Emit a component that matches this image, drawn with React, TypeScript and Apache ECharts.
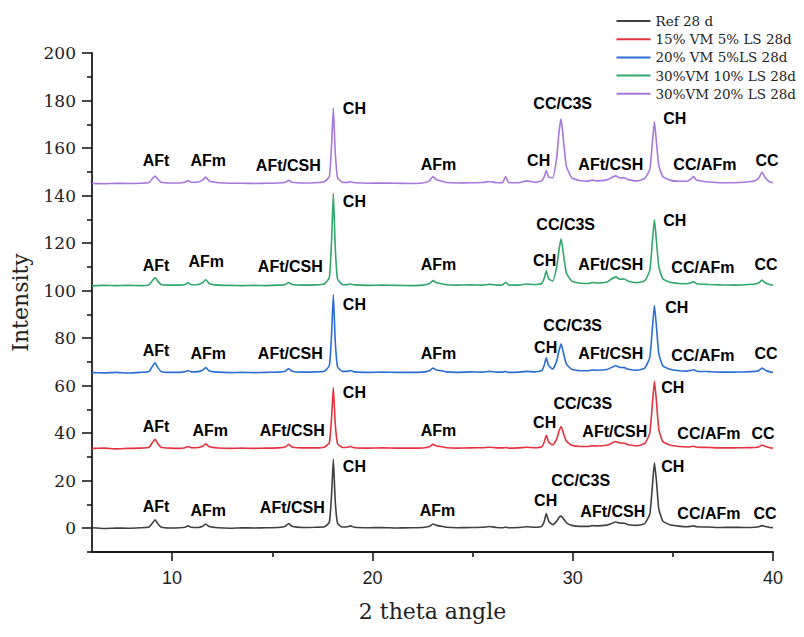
import React, { useEffect, useRef } from "react";
import * as echarts from "echarts";

// 2-theta positions shared by all patterns
const X = [
  6.0, 6.6, 7.2, 7.8, 8.4, 8.85, 9.02, 9.15, 9.28, 9.45,
  9.9, 10.4, 10.65, 10.8, 10.95, 11.3, 11.52, 11.68, 11.85, 12.3,
  12.9, 13.5, 14.1, 14.7, 15.3, 15.65, 15.82, 15.98, 16.5, 17.1,
  17.6, 17.85, 17.96, 18.05, 18.14, 18.26, 18.5, 18.75, 18.9, 19.1,
  19.8, 20.5, 21.2, 21.9, 22.5, 22.85, 23.02, 23.2, 23.45, 23.7,
  24.2, 24.9, 25.5, 25.85, 26.2, 26.5, 26.65, 26.8, 27.3, 27.7,
  28.1, 28.45, 28.58, 28.68, 28.8, 29.0, 29.2, 29.32, 29.42, 29.52,
  29.68, 29.95, 30.4, 30.8, 30.97, 31.2, 31.7, 31.95, 32.15, 32.35,
  32.58, 32.78, 33.2, 33.6, 33.85, 33.98, 34.08, 34.18, 34.3, 34.5,
  34.85, 35.3, 35.7, 35.88, 36.03, 36.2, 36.8, 37.4, 38.0, 38.6,
  39.1, 39.3, 39.45, 39.62, 39.85, 40.0,
];

// Intensities (each pattern relative to its own baseline)
const REF_28D = [
  0.2, -0.1, 0.1, 0.0, 0.2, 0.5, 2.2, 3.6, 2.0, 0.5,
  0.1, 0.2, 0.4, 1.0, 0.4, 0.3, 0.8, 1.8, 0.7, 0.2,
  0.0, 0.2, 0.1, 0.2, 0.3, 0.8, 2.0, 0.8, 0.3, 0.4,
  0.6, 2.5, 14, 29, 12, 2.0, 0.5, 0.6, 1.0, 0.4,
  0.2, 0.3, 0.1, 0.2, 0.3, 0.8, 1.8, 1.2, 0.8, 0.4,
  0.2, 0.3, 0.4, 0.7, 0.3, 0.2, 0.5, 0.2, 0.3, 0.6,
  0.4, 0.8, 3.0, 6.2, 3.0, 1.5, 3.0, 4.6, 5.1, 4.2,
  2.4, 1.2, 0.8, 0.8, 1.1, 1.0, 1.3, 2.0, 2.6, 2.2,
  2.1, 1.5, 1.2, 2.0, 6.0, 18, 27.5, 20, 8.0, 3.0,
  1.5, 0.9, 0.6, 0.8, 1.0, 0.6, 0.5, 0.3, 0.4, 0.3,
  0.4, 0.6, 1.1, 0.7, 0.3, 0.2,
];
const VM15_LS5 = [
  0.1, 0.2, -0.1, 0.1, 0.2, 0.6, 2.6, 3.9, 2.2, 0.6,
  0.2, 0.1, 0.4, 0.9, 0.4, 0.5, 1.0, 2.0, 0.8, 0.3,
  0.1, 0.2, 0.1, 0.2, 0.3, 0.7, 1.8, 0.7, 0.3, 0.3,
  0.6, 2.5, 13, 25.7, 11, 2.0, 0.5, 0.6, 0.9, 0.4,
  0.2, 0.3, 0.2, 0.2, 0.3, 0.8, 1.8, 1.1, 0.8, 0.4,
  0.2, 0.3, 0.4, 0.6, 0.3, 0.3, 0.5, 0.2, 0.3, 0.6,
  0.4, 0.8, 2.8, 5.6, 2.8, 1.5, 4.0, 7.5, 9.3, 7.0,
  3.2, 1.4, 0.9, 0.9, 1.2, 1.1, 1.4, 2.3, 3.0, 2.4,
  2.3, 1.6, 1.2, 2.2, 6.5, 19, 28.3, 20, 8.0, 3.0,
  1.5, 0.9, 0.7, 0.8, 1.0, 0.6, 0.5, 0.3, 0.3, 0.4,
  0.5, 0.8, 1.5, 0.9, 0.4, 0.2,
];
const VM20_LS5 = [
  0.1, 0.0, 0.2, -0.1, 0.2, 0.6, 2.8, 4.2, 2.3, 0.6,
  0.2, 0.2, 0.5, 1.0, 0.4, 0.5, 1.1, 2.2, 0.8, 0.3,
  0.1, 0.2, 0.1, 0.2, 0.3, 0.7, 1.8, 0.7, 0.3, 0.4,
  0.7, 3.0, 16, 32.9, 14, 2.5, 0.6, 0.6, 1.0, 0.4,
  0.2, 0.3, 0.2, 0.2, 0.3, 0.9, 2.0, 1.2, 0.9, 0.4,
  0.2, 0.4, 0.3, 0.6, 0.3, 0.3, 0.6, 0.2, 0.3, 0.6,
  0.4, 0.9, 3.2, 6.3, 3.0, 1.6, 5.0, 9.5, 12.2, 9.0,
  3.8, 1.5, 0.9, 0.9, 1.2, 1.1, 1.4, 2.3, 3.0, 2.3,
  2.2, 1.5, 1.1, 2.0, 6.5, 19, 28.3, 19.5, 8.0, 3.0,
  1.5, 0.9, 0.7, 1.0, 1.3, 0.7, 0.5, 0.3, 0.3, 0.4,
  0.6, 1.0, 2.0, 1.1, 0.4, 0.2,
];
const VM30_LS10 = [
  0.0, 0.2, 0.1, 0.2, 0.1, 0.5, 2.3, 3.5, 2.0, 0.6,
  0.3, 0.3, 0.6, 1.3, 0.5, 0.6, 1.3, 2.6, 1.0, 0.3,
  0.2, 0.1, 0.2, 0.1, 0.3, 0.6, 1.4, 0.6, 0.3, 0.4,
  0.8, 3.5, 19, 39, 17, 2.8, 0.6, 0.5, 0.8, 0.4,
  0.2, 0.3, 0.2, 0.1, 0.3, 1.0, 2.2, 1.3, 0.9, 0.5,
  0.3, 0.4, 0.3, 0.7, 0.3, 0.4, 1.5, 0.4, 0.3, 0.8,
  0.5, 1.0, 3.2, 6.3, 3.0, 2.0, 8.0, 15.5, 19.8, 14.5,
  5.5, 2.0, 1.1, 1.0, 1.4, 1.2, 1.6, 3.0, 3.8, 2.8,
  2.9, 1.9, 1.3, 2.2, 6.5, 19, 27.8, 19, 8.0, 3.0,
  1.5, 1.0, 0.9, 1.2, 1.7, 0.9, 0.6, 0.4, 0.3, 0.5,
  0.8, 1.3, 2.4, 1.3, 0.5, 0.3,
];
const VM30_LS20 = [
  0.1, 0.0, 0.2, 0.1, 0.2, 0.5, 2.2, 3.2, 1.9, 0.6,
  0.3, 0.3, 0.7, 1.3, 0.6, 0.7, 1.5, 2.8, 1.1, 0.4,
  0.2, 0.2, 0.1, 0.2, 0.3, 0.6, 1.4, 0.6, 0.3, 0.4,
  0.8, 3.0, 16, 31.8, 14, 2.5, 0.6, 0.5, 0.8, 0.4,
  0.2, 0.3, 0.2, 0.1, 0.3, 1.2, 3.0, 1.6, 1.1, 0.5,
  0.3, 0.4, 0.5, 0.9, 0.4, 0.5, 3.0, 0.5, 0.4, 1.2,
  0.6, 1.2, 3.0, 5.5, 2.8, 2.5, 11, 22, 27.3, 20,
  7.5, 2.5, 1.2, 1.1, 1.5, 1.2, 1.6, 2.6, 3.3, 2.4,
  2.5, 1.7, 1.2, 2.2, 6.0, 17.5, 26, 17.5, 7.5, 3.0,
  1.5, 1.0, 1.0, 1.8, 3.0, 1.4, 0.7, 0.4, 0.4, 0.6,
  1.2, 2.5, 4.8, 2.4, 0.7, 0.4,
];

const PATTERNS = [REF_28D, VM15_LS5, VM20_LS5, VM30_LS10, VM30_LS20];
const OFFSETS = [0, 33.5, 65.4, 102, 145];
const NAMES = [
  "Ref 28 d",
  "15% VM 5% LS 28d",
  "20% VM 5%LS 28d",
  "30%VM 10% LS 28d",
  "30%VM 20% LS 28d",
];
const COLORS = ["#3f3f3f", "#e3333f", "#2c6dd2", "#2fa76b", "#a677dc"];

// Peak annotations
const PEAK_TEXT = ["AFt", "AFm", "AFt/CSH", "CH", "AFm", "CH", "CC/C3S", "AFt/CSH", "CH", "CC/AFm", "CC"];
const LABEL_X_REF = [9.2, 11.8, 16.0, 19.1, 23.25, 28.65, 30.4, 32.0, 35.0, 36.8, 39.6];
const LABEL_Y_REF = [9.0, 7.6, 8.7, 26, 7.6, 11.8, 20.2, 7.1, 25.8, 6.2, 6.4];
const LABEL_X_VM15 = [9.2, 11.9, 16.0, 19.1, 23.3, 28.6, 30.5, 32.1, 35.0, 36.8, 39.5];
const LABEL_Y_VM15 = [42.9, 41.2, 41.2, 57.3, 41.2, 44.7, 52.4, 40.9, 59.4, 40, 40];
const LABEL_X_VM20 = [9.2, 11.8, 15.9, 19.1, 23.3, 28.65, 30.0, 31.9, 35.2, 36.5, 39.65];
const LABEL_Y_VM20 = [74.8, 73.7, 73.7, 94.1, 73.7, 76.2, 85.3, 73.7, 93.0, 72.7, 73.7];
const LABEL_X_VM30_10 = [9.2, 11.7, 15.9, 19.1, 23.3, 28.6, 29.65, 31.9, 35.1, 36.5, 39.65];
const LABEL_Y_VM30_10 = [110.5, 112.2, 110.1, 137.5, 110.8, 112.6, 127.7, 110.8, 129.4, 109.8, 110.8];
const LABEL_X_VM30_20 = [9.2, 11.8, 15.8, 19.1, 23.3, 28.3, 29.5, 31.9, 35.1, 36.6, 39.7];
const LABEL_Y_VM30_20 = [154.6, 154.6, 152.5, 176.8, 153.2, 154.6, 178.7, 153.2, 172.6, 153.2, 154.9];

const LABEL_XS = [LABEL_X_REF, LABEL_X_VM15, LABEL_X_VM20, LABEL_X_VM30_10, LABEL_X_VM30_20];
const LABEL_YS = [LABEL_Y_REF, LABEL_Y_VM15, LABEL_Y_VM20, LABEL_Y_VM30_10, LABEL_Y_VM30_20];

const X_MAJOR = [10, 20, 30, 40];
const X_MINOR = [15, 25, 35];
const Y_MAJOR = [0, 20, 40, 60, 80, 100, 120, 140, 160, 180, 200];
const Y_MINOR = [-10, 10, 30, 50, 70, 90, 110, 130, 150, 170, 190];

const AXIS_COLOR = "#1c1c1c";

export default function App() {
  const ref = useRef<HTMLDivElement>(null);

  useEffect(() => {
    if (!ref.current) return;
    const chart = echarts.init(ref.current, null, { renderer: "svg" });

    const lineSeries = PATTERNS.map((p, i) => ({
      name: NAMES[i],
      type: "line",
      data: X.map((x, k) => [x, p[k] + OFFSETS[i]]),
      symbol: "none",
      smooth: 0.15,
      lineStyle: { color: COLORS[i], width: 1.6 },
      itemStyle: { color: COLORS[i] },
      z: 3,
    }));

    const labelData: any[] = [];
    LABEL_XS.forEach((xs, i) => {
      xs.forEach((x, j) => {
        labelData.push({ value: [x, LABEL_YS[i][j]], name: PEAK_TEXT[j] });
      });
    });

    const labelSeries = {
      name: "peaks",
      type: "scatter",
      data: labelData,
      symbol: "circle",
      symbolSize: 1,
      itemStyle: { color: "rgba(255,255,255,0)" },
      silent: true,
      clip: false,
      label: {
        show: true,
        position: "inside",
        formatter: "{b}",
        fontFamily: "Liberation Sans, Arial, sans-serif",
        fontWeight: "bold",
        fontSize: 16,
        color: "#000000",
        opacity: 1,
      },
      z: 4,
    };

    chart.setOption({
      animation: false,
      backgroundColor: "#ffffff",
      grid: { left: 92, right: 31, top: 53, bottom: 85, containLabel: false },
      legend: {
        data: NAMES,
        orient: "vertical",
        right: 3,
        top: 9,
        itemWidth: 34,
        itemHeight: 14,
        itemGap: 4.2,
        icon: "path://M0,6 L34,6 L34,8 L0,8 Z",
        textStyle: {
          fontFamily: "DejaVu Serif, serif",
          fontSize: 13.5,
          color: "#222",
          lineHeight: 14,
        },
      },
      xAxis: [
        {
          type: "value",
          min: 6,
          max: 40,
          name: "2 theta angle",
          nameLocation: "middle",
          nameGap: 48,
          nameTextStyle: { fontFamily: "DejaVu Serif, serif", fontSize: 22, color: "#222" },
          axisLine: { show: true, onZero: false, lineStyle: { color: AXIS_COLOR, width: 1.8 } },
          axisTick: { show: true, customValues: X_MAJOR, length: 9, lineStyle: { color: AXIS_COLOR, width: 1.6 } },
          axisLabel: {
            customValues: X_MAJOR,
            margin: 17,
            fontFamily: "Liberation Sans, Arial, sans-serif",
            fontSize: 18,
            color: "#222",
          },
          splitLine: { show: false },
        },
        {
          type: "value",
          min: 6,
          max: 40,
          position: "bottom",
          offset: 0,
          axisLine: { show: false, onZero: false },
          axisTick: { show: true, customValues: X_MINOR, length: 5, lineStyle: { color: AXIS_COLOR, width: 1.6 } },
          axisLabel: { show: false },
          splitLine: { show: false },
        },
      ],
      yAxis: [
        {
          type: "value",
          min: -10,
          max: 200,
          name: "Intensity",
          nameLocation: "middle",
          nameGap: 61,
          nameTextStyle: { fontFamily: "DejaVu Serif, serif", fontSize: 22, color: "#222" },
          axisLine: { show: true, onZero: false, lineStyle: { color: AXIS_COLOR, width: 1.8 } },
          axisTick: { show: true, customValues: Y_MAJOR, length: 10, lineStyle: { color: AXIS_COLOR, width: 1.6 } },
          axisLabel: {
            customValues: Y_MAJOR,
            margin: 16,
            fontFamily: "DejaVu Serif, serif",
            fontSize: 17,
            color: "#222",
          },
          splitLine: { show: false },
        },
        {
          type: "value",
          min: -10,
          max: 200,
          position: "left",
          offset: 0,
          axisLine: { show: false, onZero: false },
          axisTick: { show: true, customValues: Y_MINOR, length: 5, lineStyle: { color: AXIS_COLOR, width: 1.6 } },
          axisLabel: { show: false },
          splitLine: { show: false },
        },
      ],
      series: [...lineSeries, labelSeries],
    });

    return () => chart.dispose();
  }, []);

  return (
    <div
      ref={ref}
      style={{ position: "absolute", left: 0, top: 0, width: 804, height: 637 }}
    />
  );
}
